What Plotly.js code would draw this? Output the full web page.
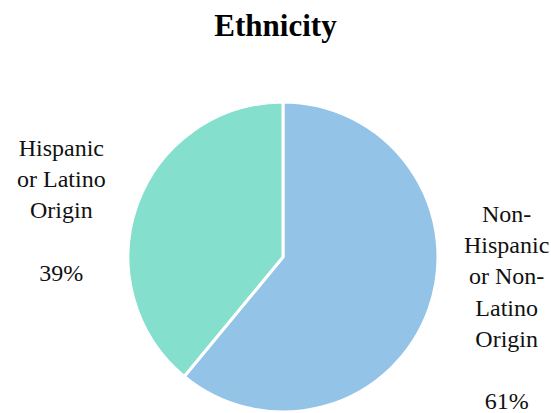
<!DOCTYPE html>
<html>
<head>
<meta charset="utf-8">
<script src="https://cdn.plot.ly/plotly-3.0.1.min.js"></script>
<style>html,body{margin:0;padding:0;background:#fff;}#chart{width:551px;height:413px;}</style>
</head>
<body>
<div id="chart"></div>
<script>
const categories = ["Non-<br>Hispanic<br>or Non-<br>Latino<br>Origin", "Hispanic<br>or Latino<br>Origin"];
const values = [61, 39];
const colors = ["#93c4e8", "#84dfcc"];
const labelPos = [[0.920, 0.2555], [0.1125, 0.4915]];

const SERIF = "Liberation Serif";
const total = values.reduce((a, b) => a + b, 0);

const trace = {
  type: "pie",
  labels: categories,
  values: values,
  sort: false,
  direction: "clockwise",
  rotation: 0,
  marker: {colors: colors, line: {color: "#ffffff", width: 3}},
  textinfo: "none",
  hoverinfo: "none",
  domain: {x: [0.2287, 0.7985], y: [0.0024, 0.753]}
};

const annotations = categories.map((c, i) => ({
  xref: "paper", yref: "paper",
  x: labelPos[i][0], y: labelPos[i][1],
  xanchor: "center", yanchor: "middle", align: "center",
  showarrow: false,
  text: c + "<br><br>" + Math.round(values[i] / total * 100) + "%",
  font: {family: SERIF, size: 24, color: "#111"}
}));

const layout = {
  width: 551, height: 413,
  margin: {l: 0, r: 0, t: 0, b: 0},
  showlegend: false,
  paper_bgcolor: "#ffffff",
  annotations: annotations,
  title: {text: "<b>Ethnicity</b>", x: 0.5, xanchor: "center", y: 0.94, yanchor: "middle",
          font: {family: SERIF, size: 31, color: "#000"}}
};

Plotly.newPlot("chart", [trace], layout, {displayModeBar: false, staticPlot: true});
</script>
</body>
</html>
